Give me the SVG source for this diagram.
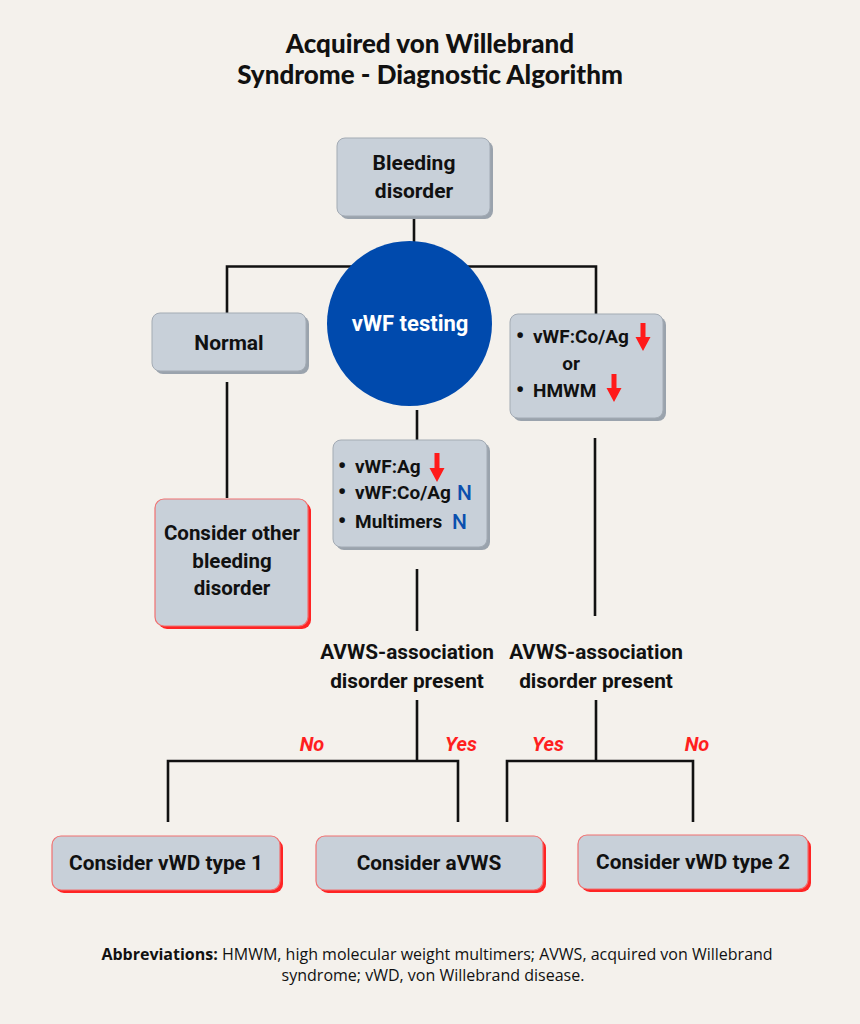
<svg xmlns="http://www.w3.org/2000/svg" width="860" height="1024" viewBox="0 0 860 1024">
<defs>
<style>
.bg{fill:#f4f1ec}
.box{fill:#c8d0d9;stroke:#a3abb4;stroke-width:1}
.sh{fill:#9aa3ad}
.rbox{fill:#c8d0d9;stroke:#f07070;stroke-width:1.2}
.rsh{fill:#ff2424}
.t{font-family:Roboto,"Liberation Sans",sans-serif;font-weight:bold;fill:#111;text-anchor:middle}
.tl{font-family:Roboto,"Liberation Sans",sans-serif;font-weight:bold;fill:#111}
.b{font-family:Roboto,"Liberation Sans",sans-serif;font-weight:bold;fill:#111;text-anchor:middle;font-size:24px}
.yn{font-family:Roboto,"Liberation Sans",sans-serif;font-weight:bold;font-style:italic;fill:#ff1f1f;text-anchor:middle;font-size:20px}
.n{font-family:Roboto,"Liberation Sans",sans-serif;font-weight:500;fill:#0b4fae;font-size:21px}
.ln{stroke:#111;stroke-width:2.6;fill:none}
.arr{fill:#ff1a1a}
</style>
</defs>
<rect class="bg" x="0" y="0" width="860" height="1024"/>
<g id="title">
<text x="430" y="53" font-family="Lato,'Liberation Sans',sans-serif" font-weight="900" font-size="26" fill="#111" text-anchor="middle">Acquired von Willebrand</text>
<text x="430" y="84" font-family="Lato,'Liberation Sans',sans-serif" font-weight="900" font-size="26" fill="#111" text-anchor="middle">Syndrome - Diagnostic Algorithm</text>
</g>
<g id="connectors">
<line class="ln" x1="414" y1="217" x2="414" y2="243"/>
<polyline class="ln" points="227,314 227,266.5 596,266.5 596,314"/>
<line class="ln" x1="227" y1="382" x2="227" y2="498"/>
<line class="ln" x1="417" y1="410" x2="417" y2="440"/>
<line class="ln" x1="595" y1="438" x2="595" y2="616"/>
<line class="ln" x1="417" y1="569" x2="417" y2="631"/>
<line class="ln" x1="417" y1="700" x2="417" y2="761"/>
<polyline class="ln" points="168,822 168,761 458,761 458,822"/>
<line class="ln" x1="596" y1="700" x2="596" y2="761"/>
<polyline class="ln" points="507,822 507,761 693,761 693,822"/>
</g>
<g id="bleeding">
<rect class="sh" x="340" y="141" width="153" height="78" rx="8"/>
<rect class="box" x="337" y="138" width="153" height="78" rx="8"/>
<text class="t" x="414" y="170" font-size="21">Bleeding</text>
<text class="t" x="414" y="198" font-size="21">disorder</text>
</g>
<g id="vwf-testing">
<circle cx="409.5" cy="323.5" r="82.5" fill="#004aad"/>
<text class="t" x="410" y="331" font-size="22" style="fill:#fff">vWF testing</text>
</g>
<g id="normal">
<rect class="sh" x="155" y="316" width="154" height="58" rx="8"/>
<rect class="box" x="152" y="313" width="154" height="58" rx="8"/>
<text class="t" x="229" y="350" font-size="21">Normal</text>
</g>
<g id="other">
<rect class="rsh" x="158" y="502" width="153" height="127" rx="9"/>
<rect class="rbox" x="155" y="499" width="153" height="127" rx="9"/>
<text class="t" x="232" y="540" font-size="20.5">Consider other</text>
<text class="t" x="232" y="568" font-size="20.5">bleeding</text>
<text class="t" x="232" y="595" font-size="20.5">disorder</text>
</g>
<g id="middle-results">
<rect class="sh" x="336" y="443" width="154" height="107" rx="8"/>
<rect class="box" x="333" y="440" width="154" height="107" rx="8"/>
<text class="b" x="342" y="474">•</text>
<text class="tl" x="355" y="473" font-size="19">vWF:Ag</text>
<path class="arr" d="M434.5,453 h5 v15 h5 l-7.5,14 l-7.5,-14 h5 z"/>
<text class="b" x="342" y="500">•</text>
<text class="tl" x="355" y="499" font-size="19">vWF:Co/Ag</text>
<text class="n" x="457" y="500">N</text>
<text class="b" x="342" y="529">•</text>
<text class="tl" x="355" y="528" font-size="19">Multimers</text>
<text class="n" x="452" y="529">N</text>
</g>
<g id="right-results">
<rect class="sh" x="513" y="317" width="153" height="104" rx="8"/>
<rect class="box" x="510" y="314" width="153" height="104" rx="8"/>
<text class="b" x="520" y="344">•</text>
<text class="tl" x="533" y="343" font-size="19">vWF:Co/Ag</text>
<path class="arr" d="M640.5,323 h5 v14 h5 l-7.5,14 l-7.5,-14 h5 z"/>
<text class="t" x="571" y="370" font-size="19">or</text>
<text class="b" x="520" y="398">•</text>
<text class="tl" x="533" y="397" font-size="19">HMWM</text>
<path class="arr" d="M611.5,374 h5 v14 h5 l-7.5,14 l-7.5,-14 h5 z"/>
</g>
<g id="avws-left">
<text class="t" x="407" y="659" font-size="20.8">AVWS-association</text>
<text class="t" x="407" y="688" font-size="20.8">disorder present</text>
</g>
<g id="avws-right">
<text class="t" x="596" y="659" font-size="20.8">AVWS-association</text>
<text class="t" x="596" y="688" font-size="20.8">disorder present</text>
</g>
<g id="labels">
<text class="yn" x="312" y="751">No</text>
<text class="yn" x="461" y="751">Yes</text>
<text class="yn" x="548" y="751">Yes</text>
<text class="yn" x="697" y="751">No</text>
</g>
<g id="vwd1">
<rect class="rsh" x="55" y="839" width="228" height="54" rx="9"/>
<rect class="rbox" x="52" y="836" width="228" height="54" rx="9"/>
<text class="t" x="166" y="870" font-size="20.8">Consider vWD type 1</text>
</g>
<g id="avws">
<rect class="rsh" x="319" y="839" width="227" height="54" rx="9"/>
<rect class="rbox" x="316" y="836" width="227" height="54" rx="9"/>
<text class="t" x="429" y="870" font-size="20.8">Consider aVWS</text>
</g>
<g id="vwd2">
<rect class="rsh" x="581" y="838" width="230" height="54" rx="9"/>
<rect class="rbox" x="578" y="835" width="230" height="54" rx="9"/>
<text class="t" x="693" y="869" font-size="20.8">Consider vWD type 2</text>
</g>
<g id="abbrev">
<text x="437" y="960" font-family="'Open Sans','Liberation Sans',sans-serif" font-size="16" fill="#111" text-anchor="middle"><tspan font-weight="bold">Abbreviations:</tspan> HMWM, high molecular weight multimers; AVWS, acquired von Willebrand</text>
<text x="433" y="981" font-family="'Open Sans','Liberation Sans',sans-serif" font-size="16" fill="#111" text-anchor="middle">syndrome; vWD, von Willebrand disease.</text>
</g>
</svg>
